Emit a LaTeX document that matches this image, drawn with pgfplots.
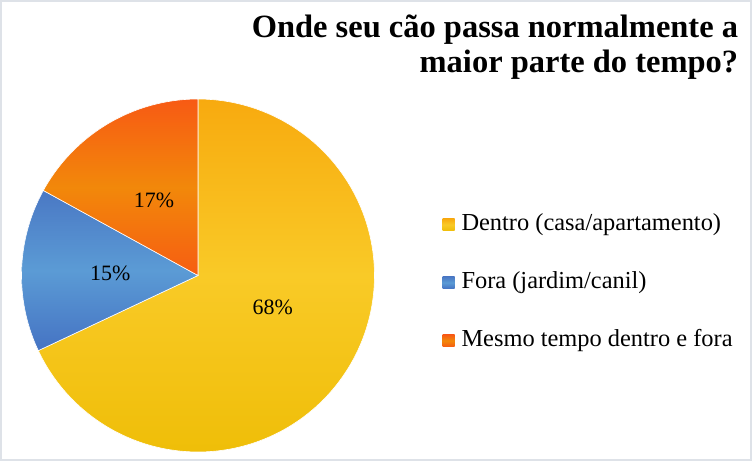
\documentclass[border=0pt]{standalone}
\usepackage{pgfplots}
\pgfplotsset{compat=1.18}
\usepackage{fontspec}
\setmainfont{Liberation Serif}
\definecolor{yTop}{HTML}{F8AA0F}
\definecolor{yMid}{HTML}{F9CA27}
\definecolor{yBot}{HTML}{EFBE08}
\definecolor{bTop}{HTML}{4A78C4}
\definecolor{bMid}{HTML}{5B9BD5}
\definecolor{bBot}{HTML}{4573C3}
\definecolor{oTop}{HTML}{F75A14}
\definecolor{oMid}{HTML}{F2880A}
\definecolor{oBot}{HTML}{F65D12}
\definecolor{frame}{HTML}{DEE2E8}
\begin{document}
\begin{tikzpicture}
\def\cx{198}\def\cy{185.5}\def\r{176.5}
% shares (percent)
\def\pA{68}\def\pB{15}\def\pC{17}
\pgfmathsetmacro\aA{90}
\pgfmathsetmacro\aB{90-3.6*\pA}
\pgfmathsetmacro\aC{\aB-3.6*\pB}
\pgfmathsetmacro\aD{\aC-3.6*\pC}
\begin{axis}[
  x=1bp, y=1bp, xmin=0, xmax=752, ymin=0, ymax=461,
  scale only axis, hide axis, clip=false,
  legend style={at={(axis cs:442.7,178.3)}, anchor=west, draw=none, fill=none,
    inner sep=0pt, outer sep=0pt, row sep=36bp,
    font=\fontsize{24.5}{26}\selectfont,
    nodes={inner sep=0pt, text height=17bp, text depth=5bp},
    /tikz/every odd column/.append style={column sep=6.8bp}},
  legend cell align=left,
  legend image code/.code={\path[#1,draw=none] (0bp,-6bp) rectangle (12bp,6bp);},
]
\addplot[draw=white, line width=0.6bp, top color=yTop, bottom color=yBot, middle color=yMid,
  domain=\aB:\aA, samples=150] ({\cx+\r*cos(x)},{\cy+\r*sin(x)}) -- (\cx,\cy) -- cycle;
\addlegendentry{Dentro (casa/apartamento)}
\addplot[draw=white, line width=0.6bp, top color=bTop, bottom color=bBot, middle color=bMid,
  domain=\aC:\aB, samples=50] ({\cx+\r*cos(x)},{\cy+\r*sin(x)}) -- (\cx,\cy) -- cycle;
\addlegendentry{Fora (jardim/canil)}
\addplot[draw=white, line width=0.6bp, top color=oTop, bottom color=oBot, middle color=oMid,
  domain=\aD:\aC, samples=50] ({\cx+\r*cos(x)},{\cy+\r*sin(x)}) -- (\cx,\cy) -- cycle;
\addlegendentry{Mesmo tempo dentro e fora}
\node[anchor=base, font=\fontsize{22}{24}\selectfont] at (axis cs:272.8,147) {68\%};
\node[anchor=base, font=\fontsize{22}{24}\selectfont] at (axis cs:110.3,181) {15\%};
\node[anchor=base, font=\fontsize{22}{24}\selectfont] at (axis cs:154,253.7) {17\%};
\node[anchor=base east, inner sep=0pt, font=\bfseries\fontsize{32.6}{34}\selectfont] at (axis cs:738.3,423.7) {Onde seu cão passa normalmente a};
\node[anchor=base east, inner sep=0pt, font=\bfseries\fontsize{32.6}{34}\selectfont] at (axis cs:738.3,388.7) {maior parte do tempo?};
\draw[frame, line width=2.5bp] (axis cs:1.25,1.25) rectangle (axis cs:750.75,459.75);
\end{axis}
\pgfresetboundingbox
\path (0,0) rectangle (752bp,461bp);
\end{tikzpicture}
\end{document}
